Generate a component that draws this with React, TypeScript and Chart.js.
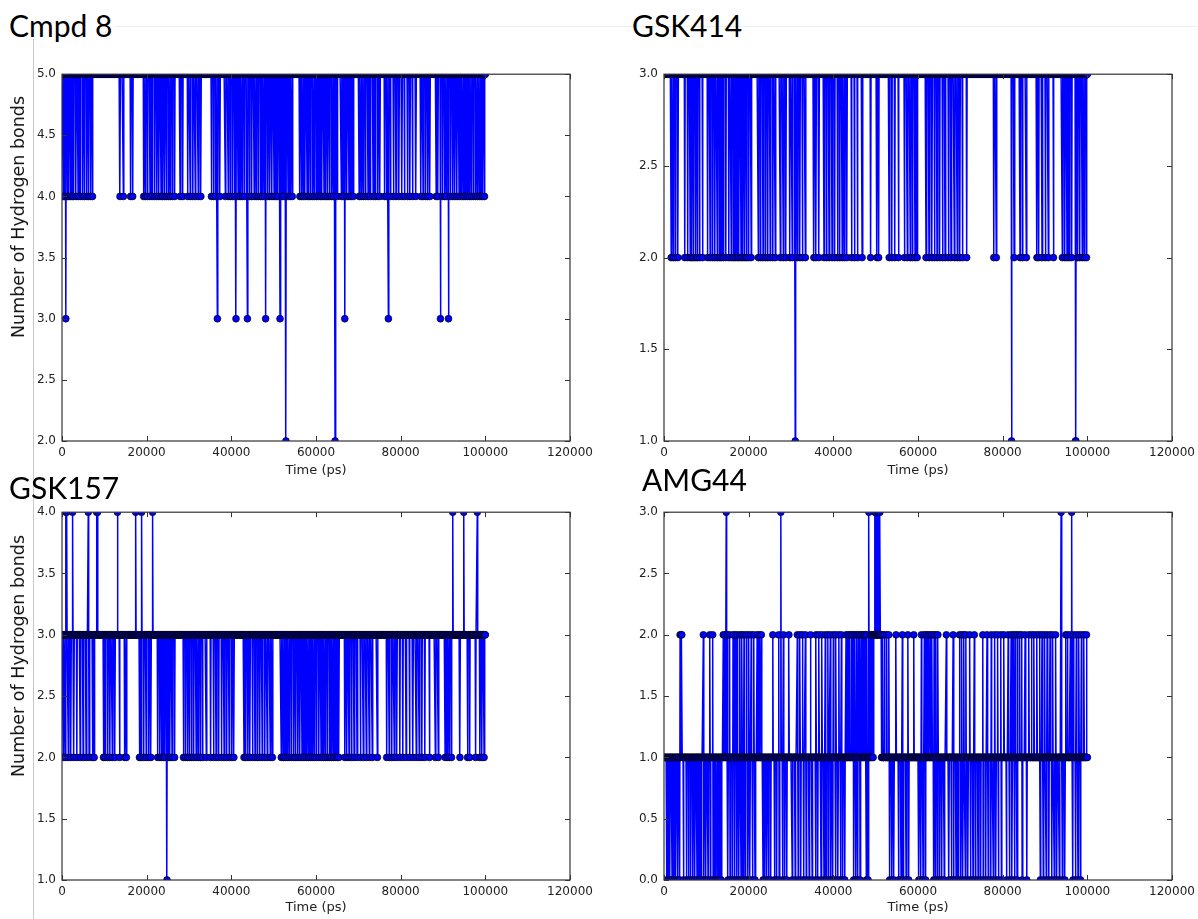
import React, { useEffect, useRef } from "react";
import { Chart, registerables } from "chart.js";

Chart.register(...registerables);

// ---------- time axis ----------
const TIME_STEP = 100; // ps between frames
const TIME_END = 100000; // last frame (ps)
const X_MAX = 120000;
const X_STEP = 20000;
const Y_STEP = 0.5;

// ---------- Cmpd 8 (baseline 5 H-bonds) ----------
const cmpd8Base = 5;
const cmpd8At4 = [
  300, 600, 1300, 1600, 2000, 2400, 2700, 3300, 3800, 4300, 4900, 5300, 5900, 6300, 6800, 7200,
  13700, 14500, 16200, 16700,
  19300, 19700, 20200, 20800, 21300, 21900, 22400, 22900, 23400, 23800, 24300, 24700, 25200, 25600, 26100, 26600,
  27900, 28500, 29700, 30300, 30900, 31500, 32200, 32800,
  35300, 35800, 36300, 37300,
  38600, 39300, 39800, 40300, 40800, 41600, 42100, 42600, 43100, 44300, 44800, 45400, 45900, 46400, 46900, 47300,
  47800, 48600, 49100, 49600, 50100, 50600, 51000, 52000, 52500, 53400, 53900, 54400,
  56200, 56600, 57000, 57400, 57900, 58300, 58700, 59200, 59600, 60100, 60500, 61000, 61400, 61900, 62300, 62800,
  63200, 63700, 64100, 65000, 66000, 66400, 67300, 67800, 68300, 68800, 70200, 70700, 71200, 71700, 72300, 72800,
  73500, 74000, 74600, 75100, 76200, 76700, 77600, 78300, 78900, 79600, 80300, 80900, 81600, 82200, 82800, 83600,
  84800, 85300, 85900, 86400, 86900,
  88400, 88800, 89900, 90400, 90800, 91800, 92300, 92800, 93300, 93800, 94300, 94800, 95200, 95700, 96200, 96700,
  97200, 97700, 98100, 98600, 99000, 99400, 99800,
];
const cmpd8At3 = [900, 36700, 41100, 43800, 48100, 51500, 66800, 77100, 89400, 91300];
const cmpd8At2 = [52900, 64500];

// ---------- GSK414 (baseline 3) ----------
const gsk414Base = 3;
const gsk414At2 = [
  1700, 2200, 2700, 3300, 4900, 5600, 6200, 6600, 7000, 7500, 7900, 8400, 9100, 10300, 10900, 11500, 12000, 12600,
  13100, 13500, 14000, 14600, 15300, 15900, 16400, 16800, 17300, 17700, 18200, 18600, 19100, 19500, 20000, 20600,
  22300, 22800, 23400, 24000, 24500, 25100, 25700, 26300, 27500, 28200, 28800, 29700, 30300, 31500, 32100, 32700,
  33400,
  35400, 35900, 36600, 37800, 38400, 39000, 39700, 40300, 41000, 41500, 42100, 42600, 43200, 44300, 45000, 45700,
  46800,
  48800, 50300, 50700,
  53200, 53800, 54500, 55400, 56800, 57500, 58200, 58700, 59300, 59800,
  61900, 62600, 63300, 63900, 64500, 65100, 65800, 66400, 67200, 67800, 68600, 69300, 69900, 70500, 71500,
  77900, 78500,
  82700, 84100, 84700, 85600,
  88100, 88500, 89300, 90100, 90800, 92000,
  94100, 94700, 95200, 95700, 96300, 97700, 98200, 98800, 99300, 99800,
];
const gsk414At1 = [31000, 82100, 97200, 97300];

// ---------- GSK157 (baseline 3) ----------
const gsk157Base = 3;
const gsk157At4 = [900, 1100, 2500, 6200, 8200, 8400, 13100, 17400, 18800, 21400, 92300, 94900, 98100];
const gsk157At2 = [
  300, 800, 1500, 2100, 2800, 3500, 4300, 5000, 5700, 6400, 7200, 7600,
  9800, 10200, 10800, 11300, 11900, 12500, 13600, 14800, 15200,
  18300, 18700, 19300, 19900, 20500, 21000, 22600, 23100, 23500, 23900, 24300, 25100, 25500, 26000, 26600,
  28700, 29200, 29700, 30100, 30600, 31100, 31700, 32200, 32700, 33200, 34100, 35100, 35800, 36400, 37000, 37700,
  38300, 38900, 39500, 40100, 40600, 43000, 43400, 43900, 44400, 45000, 45600, 46200, 46700, 47300, 47900, 48500,
  49200, 49700,
  51800, 52300, 52700, 53200, 53700, 54200, 54800, 55200, 55700, 56200, 56700, 57200, 57700, 58200, 58600, 59100,
  59600, 60100, 60700, 61200, 61700, 62200, 62700, 63200, 63600, 64100, 64500, 65000, 65400, 66800, 67300, 67800,
  68400, 69000, 69700, 70500, 71200, 71900, 72600, 73300, 74500,
  76700, 77300, 77900, 78500, 79100, 79800, 80500, 81300, 82100, 82900, 83700, 84400, 85000, 85700, 86800, 88200,
  88900, 90500, 91000, 91500, 92000, 94000, 95800, 96300, 97700, 98700, 99200, 99700,
];
const gsk157At1 = [24800];

// ---------- AMG44 (baseline 1) ----------
const amg44Base = 1;
const amg44Plateau2: [number, number][] = [[49500, 51300]]; // [from, to] ps spent at 2
const amg44At0 = [
  600, 1000, 1400, 1900, 2400, 2800, 3300, 3700, 4600, 5300, 5800, 6300, 6800, 7300, 7800, 8300, 8800, 9400, 9900,
  10400, 11000, 11600, 12100, 12600, 13000, 13500, 15100, 15600, 16200, 16700, 17200, 17700, 18200, 18700, 19200,
  19800, 20300, 20900, 21500,
  23400, 23800, 24300, 24700, 25200, 26100, 26600, 27200, 28000, 28500, 29000, 30300, 31000, 31700, 32300, 33000,
  33600, 34300, 35000, 35800, 36300, 37100, 37800, 38300, 38900, 39400, 39900, 40500, 41100, 41700, 42200, 42700,
  43500, 44300, 44800, 45300, 45800, 46300, 47800, 48200,
  53300, 53800, 54300, 54800, 55400, 56000, 56500, 57200, 57800, 60200, 60700, 61200, 61800, 62900, 63300, 63700,
  64100, 64600, 65100, 65600, 66200, 66700, 67300, 67900, 68400, 69000, 69500, 70100, 70600, 71200, 71800, 72400,
  73000, 73600, 74200, 74800, 75400, 76000, 76600, 77200, 77800, 78400, 79000, 79700, 80300, 80900, 81600, 82200,
  82800, 83400, 84000, 84600, 85700, 88900, 89600, 90300, 90900, 91600, 92200, 92800, 93400, 94100, 94700, 95300,
  96000, 96600, 97200, 97800, 98400,
];
const amg44At2 = [
  3800, 4100, 4200, 9300, 10800, 11500, 14000, 14400, 15000, 15500, 16300, 16800, 17300, 17900, 18400, 18900, 19500,
  20000, 20600, 21200, 22000, 22500, 23000, 25700, 27100, 28200, 29500, 31500, 32100, 32700, 33400, 34600, 35900,
  36600, 37300, 38100, 38700, 39300, 40000, 40600, 41300, 41900, 43000, 43500, 43900, 44300, 44700, 45100, 45500,
  45900, 46200, 46600, 47000, 47300, 47600, 47900, 48700, 49000, 49300, 51700, 52100, 52600, 53100, 54800, 56300,
  57600, 59000, 60800, 61500, 61900, 62400, 62900, 63300, 63800, 64200, 64700, 66700, 68300, 69800, 70300, 70800,
  71300, 72200, 73300, 75300, 76300, 77300, 78100, 78800, 79600, 80300, 81300, 82000, 82500, 83000, 83500, 84000,
  84500, 85300, 86200, 86800, 87400, 88100, 88700, 89300, 89900, 90500, 91200, 91800, 92500, 94900, 95300, 96000,
  96700, 97400, 98000, 98600, 99200, 99800,
];
const amg44At3 = [14700, 27600, 48400, 49800, 50100, 50600, 51000, 93800, 96300];

// ---------- build per-frame table from the read values ----------
type Pt = { x: number; y: number };
function buildSeries(
  base: number,
  plateaus: [number, [number, number][]][],
  levels: [number, number[]][]
): Pt[] {
  const over = new Map<number, number>();
  levels.forEach(([v, ts]) => ts.forEach((t) => over.set(t, v)));
  const out: Pt[] = [];
  for (let t = 0; t <= TIME_END; t += TIME_STEP) {
    let y = base;
    plateaus.forEach(([v, spans]) =>
      spans.forEach(([a, b]) => {
        if (t >= a && t <= b) y = v;
      })
    );
    if (over.has(t)) y = over.get(t) as number;
    out.push({ x: t, y });
  }
  return out;
}

const cmpd8Data = buildSeries(cmpd8Base, [], [[4, cmpd8At4], [3, cmpd8At3], [2, cmpd8At2]]);
const gsk414Data = buildSeries(gsk414Base, [], [[2, gsk414At2], [1, gsk414At1]]);
const gsk157Data = buildSeries(gsk157Base, [], [[2, gsk157At2], [4, gsk157At4], [1, gsk157At1]]);
const amg44Data = buildSeries(amg44Base, [[2, amg44Plateau2]], [[0, amg44At0], [2, amg44At2], [3, amg44At3]]);

// ---------- layout ----------
type Panel = {
  key: string;
  title: string;
  titleLeft: number;
  titleTop: number;
  plot: { l: number; t: number; r: number; b: number };
  yMin: number;
  yMax: number;
  yLabel: boolean;
  xLabelTop: number;
  data: Pt[];
};

const panels: Panel[] = [
  { key: "a", title: "Cmpd 8", titleLeft: 9, titleTop: 7, plot: { l: 62, t: 73, r: 570, b: 441 }, yMin: 2, yMax: 5, yLabel: true, xLabelTop: 462, data: cmpd8Data },
  { key: "b", title: "GSK414", titleLeft: 632, titleTop: 7, plot: { l: 664, t: 73, r: 1172, b: 441 }, yMin: 1, yMax: 3, yLabel: false, xLabelTop: 462, data: gsk414Data },
  { key: "c", title: "GSK157", titleLeft: 9, titleTop: 469, plot: { l: 62, t: 511, r: 570, b: 880 }, yMin: 1, yMax: 4, yLabel: true, xLabelTop: 899, data: gsk157Data },
  { key: "d", title: "AMG44", titleLeft: 642, titleTop: 461, plot: { l: 664, t: 511, r: 1172, b: 880 }, yMin: 0, yMax: 3, yLabel: false, xLabelTop: 899, data: amg44Data },
];

const PAD_L = 60;
const PAD_T = 12;
const PAD_R = 30;
const PAD_B = 22;

const frameTicks = {
  id: "frameTicks",
  afterDatasetsDraw(chart: any) {
    const { ctx, chartArea: a, scales } = chart;
    const x = scales.x;
    const y = scales.y;
    ctx.save();
    ctx.strokeStyle = "#333";
    ctx.lineWidth = 1.2;
    ctx.strokeRect(a.left, a.top, a.right - a.left, a.bottom - a.top);
    ctx.lineWidth = 1;
    const L = 5;
    ctx.beginPath();
    x.ticks.forEach((t: any) => {
      const px = Math.round(x.getPixelForValue(t.value)) + 0.5;
      ctx.moveTo(px, a.bottom);
      ctx.lineTo(px, a.bottom - L);
      ctx.moveTo(px, a.top);
      ctx.lineTo(px, a.top + L);
    });
    y.ticks.forEach((t: any) => {
      const py = Math.round(y.getPixelForValue(t.value)) + 0.5;
      ctx.moveTo(a.left, py);
      ctx.lineTo(a.left + L, py);
      ctx.moveTo(a.right, py);
      ctx.lineTo(a.right - L, py);
    });
    ctx.stroke();
    ctx.restore();
  },
};

function PanelChart({ p }: { p: Panel }) {
  const ref = useRef<HTMLCanvasElement>(null);
  const w = p.plot.r - p.plot.l + PAD_L + PAD_R;
  const h = p.plot.b - p.plot.t + PAD_T + PAD_B;
  useEffect(() => {
    if (!ref.current) return;
    const chart = new Chart(ref.current, {
      type: "line",
      data: {
        datasets: [
          {
            data: p.data,
            borderColor: "#0000ff",
            borderWidth: 1.5,
            pointRadius: 3.4,
            pointBackgroundColor: "#0000ff",
            pointBorderColor: "#000000",
            pointBorderWidth: 0.7,
            clip: 0,
            tension: 0,
          } as any,
        ],
      },
      options: {
        animation: false,
        responsive: false,
        devicePixelRatio: 1,
        events: [],
        parsing: false,
        normalized: true,
        layout: { padding: { left: 0, top: PAD_T, right: PAD_R, bottom: 0 } },
        plugins: { legend: { display: false }, tooltip: { enabled: false }, title: { display: false } },
        scales: {
          x: {
            type: "linear",
            min: 0,
            max: X_MAX,
            grid: { display: false, drawTicks: false },
            border: { display: false },
            ticks: {
              stepSize: X_STEP,
              padding: 5,
              maxRotation: 0,
              color: "#222",
              font: { family: "DejaVu Sans", size: 12 },
              callback: (v: any) => String(v),
            },
            afterFit: (s: any) => {
              s.height = PAD_B;
            },
          },
          y: {
            type: "linear",
            min: p.yMin,
            max: p.yMax,
            grid: { display: false, drawTicks: false },
            border: { display: false },
            ticks: {
              stepSize: Y_STEP,
              padding: 6,
              color: "#222",
              font: { family: "DejaVu Sans", size: 12 },
              callback: (v: any) => Number(v).toFixed(1),
            },
            afterFit: (s: any) => {
              s.width = PAD_L;
            },
          },
        },
      },
      plugins: [frameTicks],
    } as any);
    return () => chart.destroy();
  }, [p]);
  return (
    <canvas
      ref={ref}
      width={w}
      height={h}
      style={{ position: "absolute", left: p.plot.l - PAD_L, top: p.plot.t - PAD_T, width: w, height: h }}
    />
  );
}

export default function App() {
  return (
    <div style={{ position: "absolute", left: 0, top: 0, width: 1198, height: 919, background: "#fff", overflow: "hidden" }}>
      <div style={{ position: "absolute", left: 115, top: 26, width: 1083, height: 1, background: "#efefef" }} />
      <div style={{ position: "absolute", left: 33, top: 39, width: 1, height: 880, background: "#c8c8c8" }} />
      {panels.map((p) => (
        <React.Fragment key={p.key}>
          <PanelChart p={p} />
          <div
            style={{
              position: "absolute",
              left: p.titleLeft,
              top: p.titleTop,
              fontFamily: "Lato, 'Open Sans', sans-serif",
              fontSize: 30,
              lineHeight: "36px",
              color: "#000",
              whiteSpace: "nowrap",
            }}
          >
            {p.title}
          </div>
          <div
            style={{
              position: "absolute",
              left: (p.plot.l + p.plot.r) / 2,
              top: p.xLabelTop,
              transform: "translateX(-50%)",
              fontFamily: "'DejaVu Sans', sans-serif",
              fontSize: 13,
              color: "#222",
              whiteSpace: "nowrap",
            }}
          >
            Time (ps)
          </div>
          {p.yLabel && (
            <div
              style={{
                position: "absolute",
                left: 18,
                top: (p.plot.t + p.plot.b) / 2 - 40,
                transform: "translate(-50%, -50%) rotate(-90deg)",
                fontFamily: "'DejaVu Sans', sans-serif",
                fontSize: 17.5,
                color: "#111",
                whiteSpace: "nowrap",
              }}
            >
              Number of Hydrogen bonds
            </div>
          )}
        </React.Fragment>
      ))}
    </div>
  );
}
